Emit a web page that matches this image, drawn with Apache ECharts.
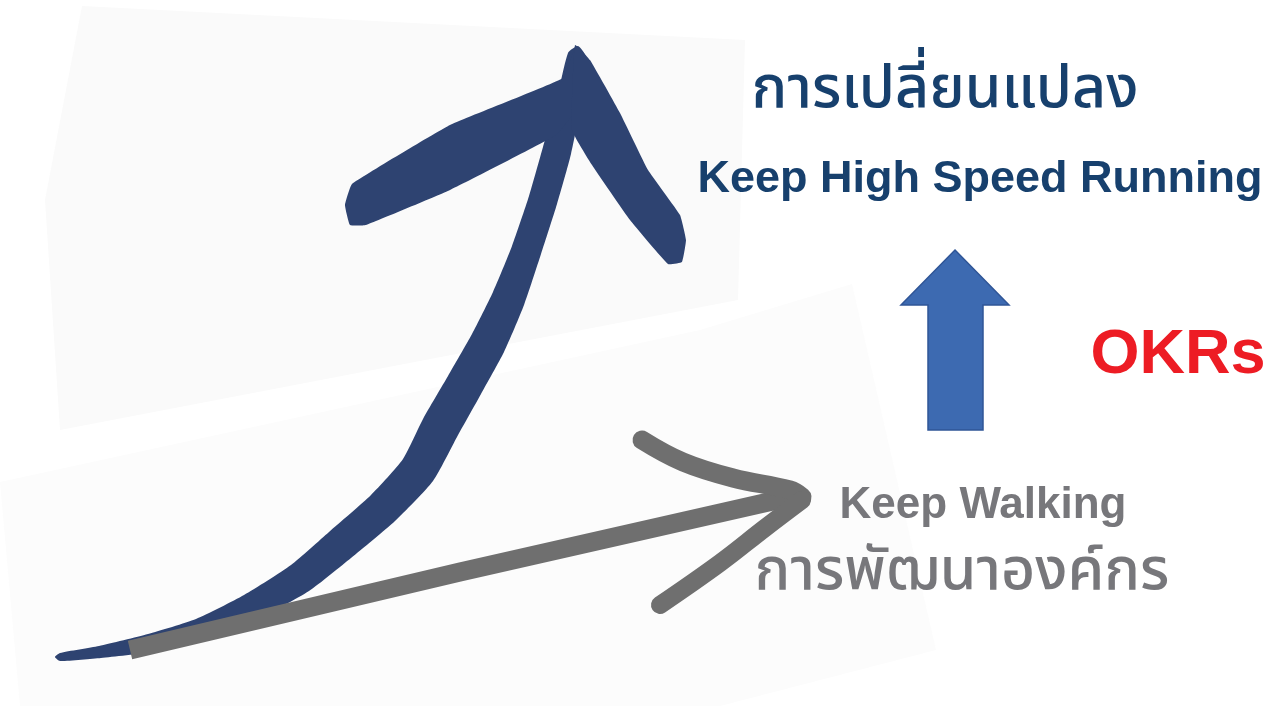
<!DOCTYPE html>
<html>
<head>
<meta charset="utf-8">
<script src="https://cdn.jsdelivr.net/npm/echarts@6/dist/echarts.min.js"></script>
<style>html,body{margin:0;padding:0;background:#fff}#c{width:1271px;height:706px}</style>
</head>
<body>
<div id="c"></div>
<script>
// ---- data (in picture units: x 0..1271, y 0..706 top-down) ----
const bgSheetA = [[82,6],[745,40],[738,300],[60,430],[45,200]];
const bgSheetB = [[0,482],[700,330],[852,284],[936,650],[720,706],[20,706]];
const navyStroke = [[60,661],[101,658],[152,652],[204,641],[256,620],[309,591],[351,558],[395,521],[433,481],[457,437],[481,394],[504,352],[524,305],[541,254],[557,204],[571,154],[580,108],[586,57],[578,46],[568,53],[556,103],[543,147],[529,196],[512,246],[493,292],[472,334],[448,376],[423,419],[403,459],[371,495],[329,532],[291,565],[244,595],[196,619],[148,634],[99,646],[60,653],[55,657]];
const navyBarbLeft = [[575,48],[563,78],[450,125],[352,184],[345,205],[350,225],[366,225],[450,190],[556,135],[575,110]];
const navyBarbRight = [[575,45],[590,60],[620,113],[648,170],[680,215],[686,240],[682,262],[668,264],[630,220],[592,165],[572,130]];
const grayShaft = [[130,650],[460,572],[795,496]];
const grayBarbUpper = [[642,440],[683,462],[733,478],[790,490],[802,497]];
const grayBarbLower = [[802,500],[765,528],[720,563],[660,605]];
const blockArrow = [[955,250],[1009,305],[983,305],[983,430],[928,430],[928,305],[901,305]];

const titleTop = 'การเปลี่ยนแปลง';
const titleTopEn = 'Keep High Speed Running';
const labelMid = 'OKRs';
const labelLowEn = 'Keep Walking';
const labelLow = 'การพัฒนาองค์กร';

const shapes = [
  {pts: bgSheetA, fill: '#fafafa', stroke: 'none', smooth: 0},
  {pts: bgSheetB, fill: '#fcfcfc', stroke: 'none', smooth: 0},
  {pts: navyStroke, fill: '#2e4371', stroke: 'none', smooth: 0.2},
  {pts: navyBarbLeft, fill: '#2e4371', stroke: 'none', smooth: 0.1},
  {pts: navyBarbRight, fill: '#2e4371', stroke: 'none', smooth: 0.1},
  {pts: blockArrow, fill: '#3d6ab1', stroke: '#2f5597', smooth: 0}
];

const chart = echarts.init(document.getElementById('c'), null, {renderer: 'canvas'});
const thai = "'Noto Sans Thai', 'Noto Sans Thai UI', 'Noto Sans', 'DejaVu Sans', sans-serif";
const latin = "'Liberation Sans', Arial, sans-serif";

function polySeries(list, z) {
  return {
    type: 'custom', z: z, silent: true, animation: false,
    data: list.map((s, i) => i),
    renderItem: function (params, api) {
      const s = list[api.value(0)];
      return {
        type: 'polygon',
        shape: {points: s.pts.map(p => api.coord(p)), smooth: s.smooth},
        style: {fill: s.fill, stroke: s.stroke === 'none' ? null : s.stroke, lineWidth: 1.5}
      };
    },
    encode: {x: -1, y: -1}
  };
}

function strokeSeries(pts, width, z, cap, smooth) {
  return {
    type: 'line', data: pts, smooth: smooth, symbol: 'none', z: z, silent: true, animation: false,
    lineStyle: {color: '#6f6f6f', width: width, cap: cap, join: 'round'}
  };
}

chart.setOption({
  backgroundColor: '#ffffff',
  animation: false,
  grid: {left: 0, right: 0, top: 0, bottom: 0},
  xAxis: {type: 'value', min: 0, max: 1271, show: false},
  yAxis: {type: 'value', min: 0, max: 706, inverse: true, show: false},
  series: [
    polySeries(shapes.slice(0, 2), 1),
    polySeries(shapes.slice(2, 5), 2),
    strokeSeries(grayShaft, 19, 3, 'butt', false),
    strokeSeries(grayBarbUpper, 19, 3, 'round', 0.4),
    strokeSeries(grayBarbLower, 18, 3, 'round', 0.4),
    polySeries(shapes.slice(5), 4)
  ],
  graphic: [
    {type: 'text', z: 100, x: 945, y: 95, style: {text: titleTop, fill: '#17406d', font: '500 59px ' + thai, align: 'center', verticalAlign: 'middle'}},
    {type: 'text', z: 100, x: 980, y: 180, style: {text: titleTopEn, fill: '#17406d', font: 'bold 45px ' + latin, align: 'center', verticalAlign: 'middle'}},
    {type: 'text', z: 100, x: 1178, y: 356, style: {text: labelMid, fill: '#ed1c24', font: 'bold 63px ' + latin, align: 'center', verticalAlign: 'middle'}},
    {type: 'text', z: 100, x: 983, y: 506, style: {text: labelLowEn, fill: '#77777b', font: 'bold 44px ' + latin, align: 'center', verticalAlign: 'middle'}},
    {type: 'text', z: 100, x: 962, y: 577, style: {text: labelLow, fill: '#77777b', font: '500 59px ' + thai, align: 'center', verticalAlign: 'middle'}}
  ]
});
</script>
</body>
</html>
